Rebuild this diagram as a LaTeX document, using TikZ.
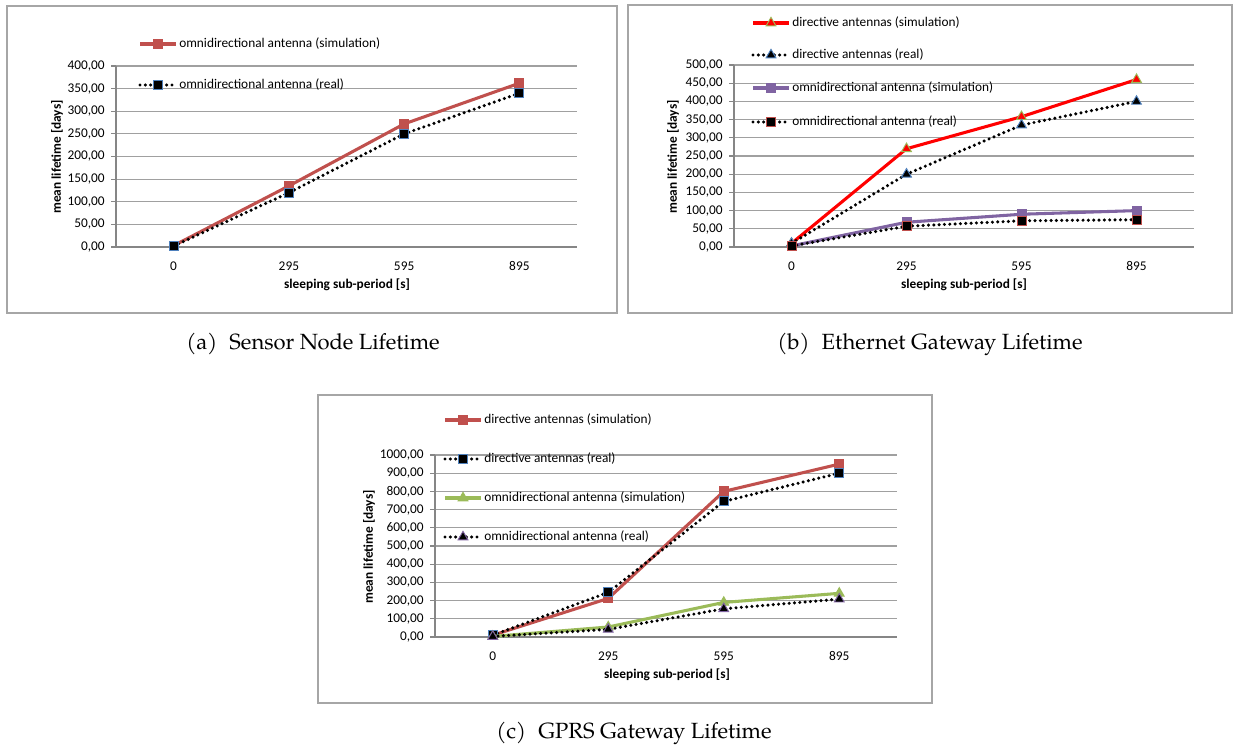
\documentclass[tikz,border=0pt]{standalone}
\usepackage{fontspec}
\setsansfont{Carlito}
\newfontfamily\capfont{texgyrepagella-regular.otf}
\usetikzlibrary{shapes.geometric}

\definecolor{exred}{HTML}{C0504D}
\definecolor{exblue}{HTML}{4F81BD}
\definecolor{expurple}{HTML}{8064A2}
\definecolor{exgreen}{HTML}{9BBB59}
\definecolor{gridgray}{HTML}{A0A0A0}
\definecolor{axisgray}{HTML}{868686}
\definecolor{framegray}{HTML}{A6A6A6}

\tikzset{
  framebox/.style={draw=framegray, line width=1pt},
  gridline/.style={draw=gridgray, line width=0.8pt},
  axisline/.style={draw=axisgray, line width=0.8pt},
  simline/.style={line width=2.3pt, line join=round},
  realline/.style={line width=2.6pt, dash pattern=on 0pt off 4pt, line cap=round},
  sqmark/.style={rectangle, minimum size=6.8pt, inner sep=0pt, line width=0.7pt},
  trimark/.style={regular polygon, regular polygon sides=3, minimum size=8.5pt, inner sep=0pt, line width=0.7pt},
  ticklab/.style={font=\sffamily\fontsize{10}{12}\selectfont, anchor=east, inner sep=0pt},
  catlab/.style={font=\sffamily\fontsize{10}{12}\selectfont, inner sep=0pt},
  axlab/.style={font=\sffamily\bfseries\fontsize{10}{12}\selectfont, inner sep=0pt},
  leglab/.style={font=\sffamily\fontsize{10}{12}\selectfont, anchor=west, inner sep=0pt},
  caplab/.style={font=\capfont\fontsize{16.5}{19}\selectfont, inner sep=0pt},
}

\begin{document}
\begin{tikzpicture}[x=0.75pt, y=-0.75pt]
  \useasboundingbox (0,0) rectangle (1235,747);

  % (a) sensor node
  \begin{scope}[shift={(116,247)}]
    \def\cw{115.25}
    \draw[framebox] (-109,-241) rectangle (501,66);
    \begin{scope}[yscale=-0.4525]
      \foreach \v in {50,100,...,400}
        \draw[gridline] (0,\v) -- (461,\v);
      \draw[axisline] (0,400) -- (0,0) -- (461,0);
      \foreach \v in {0,50,...,400} {
        \draw[axisline] (-5,\v) -- (0,\v);
        \node[ticklab] (ay\v) at (-11,\v) {\v,00};
      }
      \draw[simline, exred] ({0.5*\cw},3) \foreach \v [count=\i from 1] in {135,272,362} { -- ({(\i+0.5)*\cw},\v) };
      \foreach \v [count=\i from 0] in {3,135,272,362}
        \node[sqmark, fill=exred, draw=exred] (as\i) at ({(\i+0.5)*\cw},\v) {};
      \draw[realline] ({0.5*\cw},2) \foreach \v [count=\i from 1] in {120,250,340} { -- ({(\i+0.5)*\cw},\v) };
      \foreach \v [count=\i from 0] in {2,120,250,340}
        \node[sqmark, fill=black, draw=exblue] (ar\i) at ({(\i+0.5)*\cw},\v) {};
    \end{scope}
    \foreach \c [count=\i from 0] in {0,295,595,895}
      \node[catlab] (ax\i) at ({(\i+0.5)*\cw},19) {\c};
    \node[axlab] (axx) at (231,38) {sleeping sub-period [s]};
    \node[axlab, rotate=90] (axy) at (-59,-90) {mean lifetime [days]};
    % legend
    \draw[simline, exred] (24,-203) -- (60,-203);
    \node[sqmark, fill=exred, draw=exred] (lg1) at (42,-203) {};
    \node[leglab] (lt1) at (63,-203) {omnidirectional antenna (simulation)};
    \draw[realline] (24,-162) -- (60,-162);
    \node[sqmark, fill=black, draw=exblue] (lg2) at (42,-162) {};
    \node[leglab] (lt2) at (63,-162) {omnidirectional antenna (real)};
  \end{scope}

  % (b) ethernet gateway
  \begin{scope}[shift={(734,247)}]
    \def\cw{115}
    \draw[framebox] (-106,-242) rectangle (498,66);
    \begin{scope}[yscale=-0.364]
      \foreach \v in {50,100,...,500}
        \draw[gridline] (0,\v) -- (460,\v);
      \draw[axisline] (0,500) -- (0,0) -- (460,0);
      \foreach \v in {0,50,...,500} {
        \draw[axisline] (-5,\v) -- (0,\v);
        \node[ticklab] (by\v) at (-11,\v) {\v,00};
      }
      \draw[simline, red] ({0.5*\cw},10) \foreach \v [count=\i from 1] in {270,358,460} { -- ({(\i+0.5)*\cw},\v) };
      \foreach \v [count=\i from 0] in {10,270,358,460}
        \node[trimark, fill=red, draw=exgreen] (bds\i) at ({(\i+0.5)*\cw},\v) {};
      \draw[realline] ({0.5*\cw},10) \foreach \v [count=\i from 1] in {200,335,400} { -- ({(\i+0.5)*\cw},\v) };
      \foreach \v [count=\i from 0] in {10,200,335,400}
        \node[trimark, fill=black, draw=exblue] (bdr\i) at ({(\i+0.5)*\cw},\v) {};
      \draw[simline, expurple] ({0.5*\cw},3) \foreach \v [count=\i from 1] in {68,90,100} { -- ({(\i+0.5)*\cw},\v) };
      \foreach \v [count=\i from 0] in {3,68,90,100}
        \node[sqmark, fill=expurple, draw=expurple] (bos\i) at ({(\i+0.5)*\cw},\v) {};
      \draw[realline] ({0.5*\cw},3) \foreach \v [count=\i from 1] in {57,72,75} { -- ({(\i+0.5)*\cw},\v) };
      \foreach \v [count=\i from 0] in {3,57,72,75}
        \node[sqmark, fill=black, draw=exred] (bor\i) at ({(\i+0.5)*\cw},\v) {};
    \end{scope}
    \foreach \c [count=\i from 0] in {0,295,595,895}
      \node[catlab] (bx\i) at ({(\i+0.5)*\cw},19) {\c};
    \node[axlab] (bxx) at (230,38) {sleeping sub-period [s]};
    \node[axlab, rotate=90] (bxy) at (-61,-90) {mean lifetime [days]};
    % legend
    \draw[simline, red] (19,-224) -- (55,-224);
    \node[trimark, fill=red, draw=exgreen] (lg3) at (37,-224) {};
    \node[leglab] (lt3) at (58,-224) {directive antennas (simulation)};
    \draw[realline] (19,-192) -- (55,-192);
    \node[trimark, fill=black, draw=exblue] (lg4) at (37,-192) {};
    \node[leglab] (lt4) at (58,-192) {directive antennas (real)};
    \draw[simline, expurple] (19,-159) -- (55,-159);
    \node[sqmark, fill=expurple, draw=expurple] (lg5) at (37,-159) {};
    \node[leglab] (lt5) at (58,-159) {omnidirectional antenna (simulation)};
    \draw[realline] (19,-125) -- (55,-125);
    \node[sqmark, fill=black, draw=exred] (lg6) at (37,-125) {};
    \node[leglab] (lt6) at (58,-125) {omnidirectional antenna (real)};
  \end{scope}

  % (c) gprs gateway
  \begin{scope}[shift={(435,637)}]
    \def\cw{115.5}
    \draw[framebox] (-117,-242) rectangle (497,66);
    \begin{scope}[yscale=-0.182]
      \foreach \v in {100,200,...,1000}
        \draw[gridline] (0,\v) -- (462,\v);
      \draw[axisline] (0,1000) -- (0,0) -- (462,0);
      \foreach \v in {0,100,...,1000} {
        \draw[axisline] (-5,\v) -- (0,\v);
        \node[ticklab] (cy\v) at (-11,\v) {\v,00};
      }
      \draw[simline, exred] ({0.5*\cw},10) \foreach \v [count=\i from 1] in {212,800,950} { -- ({(\i+0.5)*\cw},\v) };
      \foreach \v [count=\i from 0] in {10,212,800,950}
        \node[sqmark, fill=exred, draw=exred] (cds\i) at ({(\i+0.5)*\cw},\v) {};
      \draw[realline] ({0.5*\cw},10) \foreach \v [count=\i from 1] in {245,745,900} { -- ({(\i+0.5)*\cw},\v) };
      \foreach \v [count=\i from 0] in {10,245,745,900}
        \node[sqmark, fill=black, draw=exblue] (cdr\i) at ({(\i+0.5)*\cw},\v) {};
      \draw[simline, exgreen] ({0.5*\cw},3) \foreach \v [count=\i from 1] in {55,190,240} { -- ({(\i+0.5)*\cw},\v) };
      \foreach \v [count=\i from 0] in {3,55,190,240}
        \node[trimark, fill=exgreen, draw=exgreen] (cos\i) at ({(\i+0.5)*\cw},\v) {};
      \draw[realline] ({0.5*\cw},3) \foreach \v [count=\i from 1] in {42,155,208} { -- ({(\i+0.5)*\cw},\v) };
      \foreach \v [count=\i from 0] in {3,42,155,208}
        \node[trimark, fill=black, draw=expurple] (cor\i) at ({(\i+0.5)*\cw},\v) {};
    \end{scope}
    \foreach \c [count=\i from 0] in {0,295,595,895}
      \node[catlab] (cx\i) at ({(\i+0.5)*\cw},19) {\c};
    \node[axlab] (cxx) at (232,38) {sleeping sub-period [s]};
    \node[axlab, rotate=90] (cxy) at (-66,-90) {mean lifetime [days]};
    % legend
    \draw[simline, exred] (10,-217) -- (46,-217);
    \node[sqmark, fill=exred, draw=exred] (lg7) at (28,-217) {};
    \node[leglab] (lt7) at (49,-217) {directive antennas (simulation)};
    \draw[realline] (10,-178) -- (46,-178);
    \node[sqmark, fill=black, draw=exblue] (lg8) at (28,-178) {};
    \node[leglab] (lt8) at (49,-178) {directive antennas (real)};
    \draw[simline, exgreen] (10,-139) -- (46,-139);
    \node[trimark, fill=exgreen, draw=exgreen] (lg9) at (28,-139) {};
    \node[leglab] (lt9) at (49,-139) {omnidirectional antenna (simulation)};
    \draw[realline] (10,-100) -- (46,-100);
    \node[trimark, fill=black, draw=expurple] (lg10) at (28,-100) {};
    \node[leglab] (lt10) at (49,-100) {omnidirectional antenna (real)};
  \end{scope}

  % captions
  \node[caplab] (capa) at (313,344) {(a)\hspace{0.55em}Sensor Node Lifetime};
  \node[caplab] (capb) at (930,344) {(b)\hspace{0.55em}Ethernet Gateway Lifetime};
  \node[caplab] (capc) at (634,733) {(c)\hspace{0.55em}GPRS Gateway Lifetime};
\end{tikzpicture}
\end{document}
